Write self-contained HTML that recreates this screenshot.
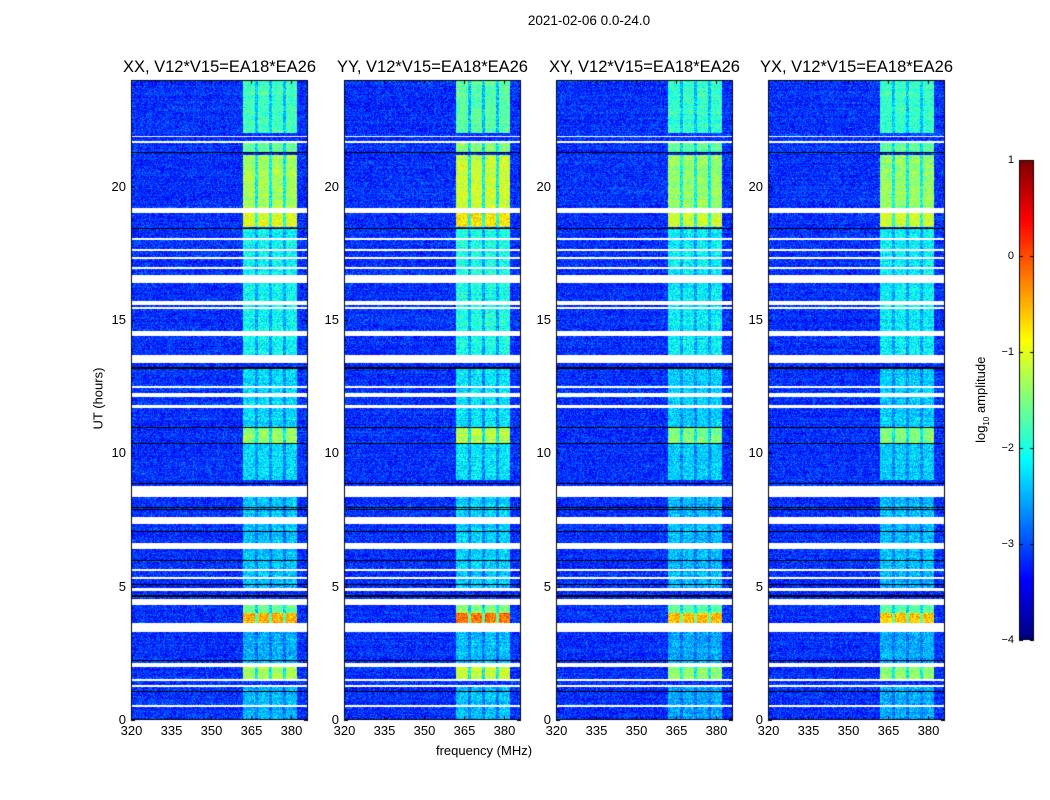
<!DOCTYPE html>
<html><head><meta charset="utf-8">
<style>
body{margin:0;background:#fff;width:1050px;height:800px;overflow:hidden;position:relative;font-family:"Liberation Sans","DejaVu Sans",sans-serif;color:#000}
.t{position:absolute;white-space:nowrap}
canvas{position:absolute;left:0;top:0}
</style></head>
<body>
<canvas id="c" width="1050" height="800"></canvas>
<div class="t" style="left:489px;top:13px;width:200px;text-align:center;font-size:13.5px">2021-02-06 0.0-24.0</div>
<div id="labels"></div>
<script>
// ---- data ----
const panelTitles=["XX, V12*V15=EA18*EA26","YY, V12*V15=EA18*EA26","XY, V12*V15=EA18*EA26","YX, V12*V15=EA18*EA26"];
const panelGain=[1.0,1.1,0.95,0.95];
const xTicks=[320,335,350,365,380];
const yTicks=[0,5,10,15,20];
const cbTicks=[1,0,-1,-2,-3,-4];
// frequency channel blocks (MHz)
const chanStart=[362.0,367.6,372.9,378.1];
const chanEnd=[366.5,371.7,377.0,382.2];
// time segments (hours) with bright-band log amplitude
const segStart=[22.0,21.3,19.2,18.5,16.7,13.7,11.0,10.4,9.0,4.95,4.0,3.65,2.15,1.55,0.0];
const segEnd=[24.0,21.7,21.2,19.0,18.45,16.4,13.2,11.0,10.4,8.35,4.3,4.0,3.3,2.0,1.25];
const segLevel=[-1.8,-1.6,-1.3,-1.0,-2.1,-2.1,-2.3,-1.4,-2.3,-2.4,-1.6,-0.45,-2.5,-1.3,-2.5];
const bgLevel=-3.15;
// flagged (white) rows, hours
const gapStart=[21.85,21.65,19.0,16.4,15.4,15.55,14.4,13.4,12.45,12.1,11.7,8.35,7.35,6.4,5.6,5.3,4.85,4.3,3.3,2.0,1.45,1.22,0.48,18.0,17.6,17.3,16.9];
const gapEnd=[21.9,21.7,19.2,16.7,15.48,15.7,14.6,13.7,12.52,12.25,11.8,8.77,7.6,6.65,5.66,5.36,4.95,4.55,3.65,2.15,1.55,1.3,0.55,18.08,17.68,17.38,16.98];
// black rows, hours
const blackRow=[21.3,18.45,13.25,13.2,11.0,10.4,8.9,8.0,7.9,7.1,6.0,5.1,4.7,4.65,2.25,1.1];
// ---- layout ----
const panelLeft=[131,344,556,768], panelW=177, pTop=80, pBot=720;
const PXM=2.667;
const fx=(f,i)=>panelLeft[i]+(f-320)*PXM;
const ty=h=>pBot-(h/24)*(pBot-pTop);
const cbX=1019,cbW=15,cbTop=160,cbBot=640;
const cy=v=>cbBot-(v+4)/5*(cbBot-cbTop);
function jet(t){t=Math.max(0,Math.min(1,t));
 const r=Math.min(4*t-1.5,-4*t+4.5),g=Math.min(4*t-0.5,-4*t+3.5),b=Math.min(4*t+0.5,-4*t+2.5);
 return [255*Math.max(0,Math.min(1,r)),255*Math.max(0,Math.min(1,g)),255*Math.max(0,Math.min(1,b))];}
function hash(a,b){let h=(a*374761393+b*668265263)|0;h=(h^(h>>>13))*1274126177|0;return ((h^(h>>>16))>>>0)/4294967296;}
const c=document.getElementById('c'),ctx=c.getContext('2d');
const lab=document.getElementById('labels');
function addT(name,txt,css){const d=document.createElement('div');d.className='t';
 
 
 d.style.cssText=css;d.innerHTML=txt;lab.appendChild(d);}
for(let p=0;p<4;p++){
 const L=panelLeft[p],H=pBot-pTop;
 const img=ctx.createImageData(panelW,H);
 for(let yy=0;yy<H;yy++){
  const h=24*(pBot-(pTop+yy+0.5))/H;
  let seg=-1;for(let s=0;s<segStart.length;s++)if(h>=segStart[s]&&h<segEnd[s]){seg=s;break;}
  let gap=false;for(let g=0;g<gapStart.length;g++)if(h>=gapStart[g]&&h<gapEnd[g]){gap=true;break;}
  for(let xx=0;xx<panelW;xx++){
   const k=(yy*panelW+xx)*4;
   if(gap){img.data[k]=img.data[k+1]=img.data[k+2]=255;img.data[k+3]=255;continue;}
   const f=320+(xx+0.5)/PXM;
   let v=bgLevel,inCh=false;
   if(seg>=0){for(let ch=0;ch<4;ch++)if(f>=chanStart[ch]&&f<chanEnd[ch]){v=bgLevel+(segLevel[seg]-bgLevel)*panelGain[p];inCh=true;}
    if(!inCh&&f>=chanStart[0]&&f<chanEnd[3])v=bgLevel+0.55*(segLevel[seg]-bgLevel);}
   v+=(hash(xx+p*1000,yy)-0.5)*0.8+(hash(yy,p)-0.5)*0.2;
   const col=jet((v+4)/5);
   img.data[k]=col[0];img.data[k+1]=col[1];img.data[k+2]=col[2];img.data[k+3]=255;
  }
 }
 ctx.putImageData(img,L,pTop);
 ctx.fillStyle='#000';
 for(const b of blackRow)ctx.fillRect(L,Math.round(ty(b)),panelW,1);
 ctx.strokeStyle='#000';ctx.lineWidth=1;ctx.strokeRect(L+0.5,pTop+0.5,panelW-1,H-1);
 ctx.beginPath();
 for(const t of xTicks){const x=Math.round(fx(t,p))+0.5;ctx.moveTo(x,pBot);ctx.lineTo(x,pBot-4);ctx.moveTo(x,pTop);ctx.lineTo(x,pTop+4);
  addT('x-tick-label',''+t,`left:${x-20}px;top:${pBot+3}px;width:40px;text-align:center;font-size:13px`);}
 for(const t of yTicks){const y=Math.round(ty(t))+0.5;ctx.moveTo(L,y);ctx.lineTo(L+4,y);ctx.moveTo(L+panelW,y);ctx.lineTo(L+panelW-4,y);
  addT('y-tick-label',''+t,`left:${L-45}px;top:${y-9}px;width:40px;text-align:right;font-size:13px`);}
 ctx.stroke();
 addT('panel-title-'+p,panelTitles[p],`left:${L-40}px;top:58px;width:${panelW+80}px;text-align:center;font-size:16.5px`);
}
// colorbar
for(let y=cbTop;y<cbBot;y++){const v=-4+5*(cbBot-y-0.5)/(cbBot-cbTop);const col=jet((v+4)/5);
 ctx.fillStyle=`rgb(${col[0]|0},${col[1]|0},${col[2]|0})`;ctx.fillRect(cbX,y,cbW,1);}
ctx.strokeStyle='#000';ctx.strokeRect(cbX+0.5,cbTop+0.5,cbW-1,cbBot-cbTop-1);
ctx.beginPath();
for(const t of cbTicks){const y=Math.round(cy(t))+0.5;ctx.moveTo(cbX,y);ctx.lineTo(cbX+4,y);ctx.moveTo(cbX+cbW,y);ctx.lineTo(cbX+cbW-4,y);
 addT('colorbar-tick-label',t<0?'\u2212'+(-t):''+t,`left:${cbX-45}px;top:${y-7}px;width:40px;text-align:right;font-size:11px`);}
ctx.stroke();
addT('y-axis-title','UT (hours)','left:50px;top:391px;width:96px;text-align:center;font-size:13px;transform:rotate(-90deg)');
addT('x-axis-title','frequency (MHz)','left:384px;top:743px;width:200px;text-align:center;font-size:13px');
addT('colorbar-title','log<sub style="font-size:8px">10</sub> amplitude','left:922px;top:391px;width:120px;text-align:center;font-size:13px;transform:rotate(-90deg)');
</script>
</body></html>
